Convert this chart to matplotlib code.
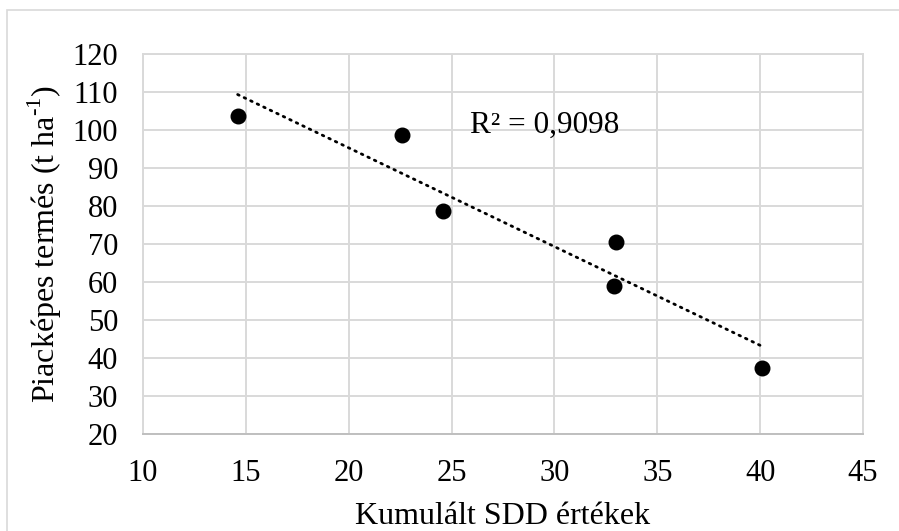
import numpy as np
import matplotlib
matplotlib.use('Agg')
import matplotlib.pyplot as plt
from matplotlib.patches import Rectangle

plt.rcParams['font.family'] = ['Liberation Serif', 'DejaVu Serif']
plt.rcParams['mathtext.fontset'] = 'custom'
plt.rcParams['mathtext.rm'] = 'Liberation Serif'

# cumulated SDD values and marketable yield (t/ha)
sdd = [14.6, 22.6, 24.6, 33.0, 32.9, 40.1]
yield_t = [103.6, 98.7, 78.6, 70.4, 58.9, 37.4]
r2_label = 'R² = 0,9098'
xticks = [10, 15, 20, 25, 30, 35, 40, 45]
yticks = [20, 30, 40, 50, 60, 70, 80, 90, 100, 110, 120]

fig = plt.figure(figsize=(8.99, 5.31), dpi=100)
ax = fig.add_axes([143/899, 1-434/531, (863-143)/899, (434-54)/531])

# outer chart border (cut at right and bottom like the screenshot)
fig.patches.append(Rectangle((7/899, -0.1), 1.2, 1-10/531+0.1, transform=fig.transFigure,
                             fill=False, edgecolor='#d9d9d9', lw=1.2))

ax.scatter(sdd, yield_t, s=110, color='black', zorder=3)

# linear trendline
k, b = np.polyfit(sdd, yield_t, 1)
xs = np.array([min(sdd), max(sdd)])
ax.plot(xs, k*xs + b, color='black', lw=2.0, linestyle=(0, (0.6, 2.0)),
        dash_capstyle='round', zorder=2)

ax.text(25.9, 101.3, r2_label, fontsize=22.5, va='center', ha='left')

ax.set_xlim(10, 45)
ax.set_ylim(20, 120)
ax.set_xticks(xticks)
ax.set_yticks(yticks)
ax.grid(True, color='#d9d9d9', lw=1.4)
ax.set_axisbelow(True)
ax.tick_params(length=0, labelsize=22)
ax.tick_params(axis='x', pad=18)
ax.tick_params(axis='y', pad=18)
for s in ax.spines.values():
    s.set_color('#d9d9d9')
    s.set_linewidth(1.4)
ax.spines['bottom'].set_color('#bfbfbf')

ax.set_xlabel('Kumulált SDD értékek', fontsize=23, labelpad=10)
ax.set_ylabel(r'Piacképes termés (t ha$^{\text{-1}}$)', fontsize=23, labelpad=6)

plt.savefig('out.png', dpi=100)
plt.close()
